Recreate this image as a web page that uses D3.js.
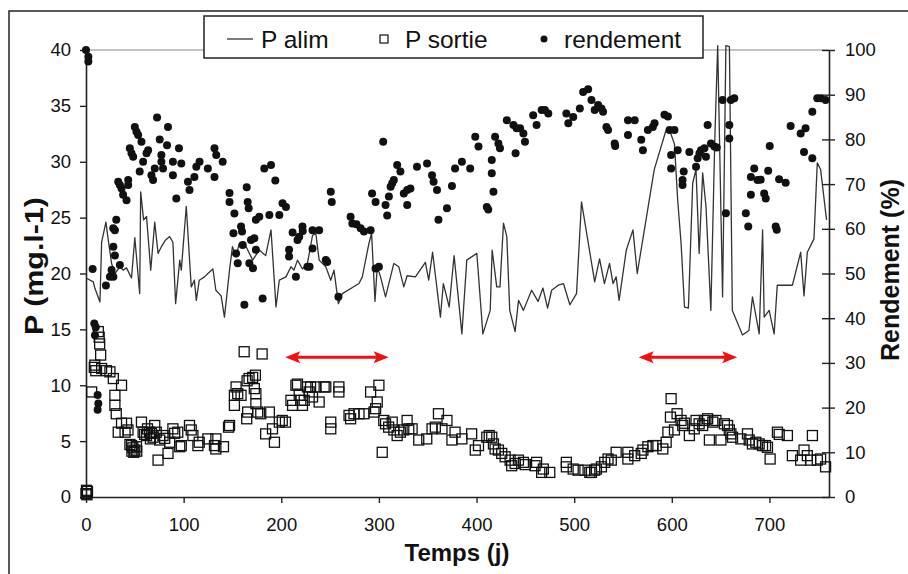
<!DOCTYPE html>
<html>
<head>
<meta charset="utf-8">
<script src="https://cdn.jsdelivr.net/npm/d3@7"></script>
<style>
  body { margin: 0; background: #fff; }
  svg { font-family: "Liberation Sans", Arial, sans-serif; }
</style>
</head>
<body>
<svg width="908" height="574"></svg>
<script>
// ticks
var xTicks = [0, 100, 200, 300, 400, 500, 600, 700];
var pTicks = [0, 5, 10, 15, 20, 25, 30, 35, 40];
var rTicks = [0, 10, 20, 30, 40, 50, 60, 70, 80, 90, 100];

// P alim [jour, mg/l]
var alim = [[0,19.6],[7.5,19.25],[9.2,18.65],[14.3,17.45],[16,22.8],[20.4,24.6],[22.8,23],[26.2,20.9],[29.6,20],[34.7,20.6],[38,20.3],[41.5,20.5],[46.6,19.6],[50,23.2],[55,18.2],[56,27.3],[59,24.8],[62,25.1],[66.3,20.3],[70.4,24.6],[73.8,21.8],[77.2,22.4],[81.6,23],[85.7,23.3],[89,22.8],[91.8,17.3],[96,21.2],[97.6,20.3],[102.7,26],[107.8,18.8],[111,19.4],[113,17.6],[116,19.4],[121.4,19.7],[124.8,20],[130,20.4],[133,18.5],[138.4,18],[141.8,16.1],[147,20.3],[150,22.4],[153.7,21.5],[157,22.7],[162,22.8],[164,22.4],[170.7,21.2],[177.5,22.1],[184,21.6],[189.5,23.9],[194.6,17],[198,19.4],[204.8,19.7],[209.9,20.6],[213,20.3],[216.6,21.2],[221.7,20.4],[226.8,20.9],[232,23.4],[235.4,23.6],[238.8,21.2],[245.6,20.6],[250.7,19.4],[254,20.3],[258.5,17.3],[262.6,18.2],[279.6,19.1],[283,19.7],[289.8,22.7],[292.5,23.6],[296,17.5],[298.3,20.6],[301.7,19.7],[306.8,17.9],[315.3,20.9],[320.4,20.6],[325.5,18.8],[328.9,19.8],[337.4,19.7],[347.6,21],[351,19.4],[355,21.9],[363,16.1],[366,19.1],[372,17],[377,21.6],[385,14.6],[390,21.2],[400.3,21.8],[406.5,14.6],[414,16.7],[416,22.1],[420.7,18.8],[424,18.8],[427.6,24.5],[431,23.3],[434,16.7],[439.5,14.8],[443,17.6],[448,16.7],[456.4,18.5],[463,17.5],[468,18.7],[472.8,16.9],[476.9,18.5],[483.7,18.95],[489,19.1],[495.6,17.2],[502.4,18.2],[507.5,26.4],[521,19.25],[526,21.3],[531,19.1],[536.2,20.9],[539.8,19.1],[543,19.7],[546,17.6],[553.4,22.1],[560.2,23.9],[564.6,20],[582,29.3],[594,32.8],[599,32.5],[602.7,31.6],[606,26.6],[609.5,22.7],[613,17],[617,16.9],[621.4,28.1],[624.8,29.3],[628,21.8],[631.6,29],[635,26],[640,16.7],[644,31.9],[647,40.4],[652,17.9],[655.4,40.4],[659,40.3],[662,16.7],[672.4,14.5],[679,14.9],[682.6,17.9],[689.5,14.6],[693,23.9],[694.6,16.1],[699.7,16.7],[704.8,14.6],[708,18.95],[723.5,18.95],[732,21.9],[735.4,18],[738.8,21.9],[745.6,23.1],[749,29.9],[752.4,29.3],[758.5,24.8]];

// P sortie [jour, mg/l]
var sortie = [[0,0.3],[0.5,0.6],[1,0.2],[1.5,0.5],[5.8,9.4],[8.5,11.6],[9,11.8],[12.6,14.8],[13.5,14.3],[14,13.7],[15,12.7],[10,11.3],[16,11.5],[21,11.3],[24.5,11.2],[28,10.6],[36.4,10],[29.6,9.1],[29.6,8.2],[31,7.45],[33,5.8],[36.4,6.6],[41.5,6.6],[43,6],[40,5.8],[45,4.7],[46.6,4.6],[47,4.1],[48,4.4],[49,4],[50,4.2],[51.7,4.5],[52,4.1],[56.8,6.7],[58.5,5.8],[60,5.6],[62,5.5],[63,6.1],[65,5.8],[66,5.2],[67,5.7],[68.7,5.35],[70.4,6.4],[73.8,3.3],[72,5.8],[75.5,5.1],[78.9,5.5],[80.6,5.25],[84,3.9],[85.7,4.9],[89,6.1],[90.8,5.7],[94,5.8],[96,4.5],[97.6,4.6],[106,6.4],[107.8,6],[109.5,5.5],[114.6,4.6],[116,4.9],[124.8,5.2],[131.6,4.6],[133,4.3],[133,5.2],[140.8,4.5],[146,6.25],[147,6.4],[152,9.1],[152,8.2],[153.7,9.85],[155.4,9.25],[158.8,9.1],[162,13],[164.6,7],[165.6,7.6],[165,10.4],[167,10.6],[170.7,10.7],[173.5,10.9],[172.4,9.7],[174,9.25],[174,8.35],[175.8,7.6],[179,7.45],[180.4,12.8],[184,5.65],[187.8,7.6],[191,6.1],[193,4.9],[198,6.7],[201,6.85],[204.3,6.7],[209.9,8.65],[211.6,8.2],[215,10],[216.6,10.1],[218.4,9.1],[220,8.65],[221.7,8.2],[223.5,8.65],[226.8,9.85],[228.6,9.4],[232,8.95],[230,9.85],[238.8,8.5],[235.4,9.85],[243.9,9.85],[245.6,9.85],[250.7,6.7],[250.7,6.1],[259,9.85],[259,9.4],[269.4,7.3],[271,7],[274.5,7.45],[279.6,7.45],[284.7,7.45],[291.5,9.4],[295,7.6],[296.6,7.9],[298.3,8.5],[300,10],[303.4,4],[305,6.85],[306.8,6.55],[310,6.25],[313.6,6.7],[315.3,6],[318.7,5.5],[322,5.8],[325.5,6],[328.9,6.85],[330.6,6.1],[334,6.1],[340.8,5.1],[349,5.2],[354.4,6.1],[357.8,6.25],[361,7.45],[364.6,6.1],[369.7,6.85],[374.8,5.1],[378,5.8],[385,5.2],[395,5.65],[398.7,4.2],[402,4.6],[410.5,5.35],[413,5.5],[415.6,5.35],[417.3,4.75],[419,4.3],[422.4,4.2],[425.8,3.9],[429.3,3.6],[434.4,3.3],[436,2.8],[439.5,3],[442.9,3.3],[448,3.1],[450,2.9],[459.9,2.8],[461.5,3.1],[468.4,2.5],[466.7,2.2],[475,2.2],[492,3.1],[492,2.7],[499,2.5],[504,2.4],[511,2.4],[516,2.2],[517.7,2.2],[521,2.4],[522.8,2.5],[527.9,2.7],[531.3,3.1],[534.7,3.4],[538,3.3],[543,4],[555,4],[555,3.4],[562,3.7],[568.7,3.9],[570.4,4.2],[575.5,4.5],[580.6,4.6],[584,4.6],[590.8,4.3],[594.2,4.9],[596,5.8],[598.6,7.15],[599.3,8.8],[602.7,6],[605.4,7.45],[609.5,6.85],[611.2,6.4],[613,6.6],[618,5.5],[623,6.1],[624.8,6.85],[628,6.55],[631.6,6.4],[633.4,6.85],[636.7,7],[638.5,5.1],[642,6.7],[645.2,6.85],[650.3,5.1],[653.8,6.55],[657.1,6.4],[658.9,6],[660.5,5.65],[662.2,5.35],[670.7,5.2],[677.5,5.65],[679.3,5.1],[682.6,4.75],[686,4.9],[689.5,4.75],[692.9,4.6],[696,4.6],[698,4.45],[700.7,3.4],[708.2,5.8],[710,5.6],[718.4,5.5],[723.5,3.7],[732,3.3],[735.4,4.2],[738.8,3.7],[742.2,3.3],[744,5.5],[749,3.3],[752.4,3.4],[757.5,2.7]];

// rendement [jour, %]
var rendement = [[0,100],[2.4,98.5],[2.4,97.4],[6.8,51],[8.5,38.8],[9.2,36.2],[10,38],[11.9,22.8],[12.6,20.9],[11.9,19.5],[20.4,47.3],[24.5,49.3],[26.2,50.8],[28,49.3],[29.6,54],[28,56],[29.6,59.7],[31,62],[27.9,60.1],[34.7,51.9],[33,70.5],[34.7,69.8],[36.4,69],[38,67.6],[41.5,66.4],[43.2,70.9],[43.2,69.8],[44.9,78],[46.6,76.9],[48.3,76.1],[50,82.8],[51.7,81.7],[53.4,81],[56.8,79.5],[55,72.8],[58.5,75],[62,76.9],[63.6,77.6],[67,72],[68.7,70.9],[70.4,73.5],[72.8,84.9],[75.5,80],[77.2,76.5],[77.2,75],[78.9,73.5],[84,82.8],[83,78.7],[89,75],[89,72],[92.5,66.8],[95.2,78],[97.6,74.6],[104.4,70.5],[106,68.7],[111,71.6],[113,73.9],[116.3,75],[124.8,73.5],[131.6,78],[133.4,76.5],[131.6,71.6],[140,75],[147,68],[147,66],[152,63.4],[151,59],[158.8,60.5],[159.8,59.4],[164.6,69.3],[165.6,66],[166.6,64.6],[153.7,54.5],[155.4,52.3],[160.5,56.4],[162.2,43],[169,57.5],[172.4,57.9],[174,55.3],[167.3,52.3],[171,51.2],[174,62],[177.5,62.7],[180.9,44.4],[182.6,73.5],[189.5,74.3],[193.9,70.8],[187.8,63.1],[198,63.1],[201.3,65.7],[204.8,64.9],[208,55.3],[208,53.8],[211.6,59.2],[215,49.3],[216.6,57.5],[218.4,58.2],[221.7,60.5],[222,59.5],[226.8,51.5],[229,51.5],[232,59.7],[232,55.6],[238.8,59.7],[245.6,53],[247,52.6],[250.7,68.3],[251.7,66],[258.5,44.8],[271,62.7],[272.8,61.2],[277,61],[281.3,60.1],[284.7,59.4],[291.5,59.7],[296.6,51.1],[300,51.5],[293,67.9],[296.6,66],[304.4,79.5],[306.8,65.3],[308.5,63],[310.2,67.2],[312,69.4],[313.6,70.2],[315.3,70.9],[318.7,74.3],[322,72.8],[325.5,67.9],[329,65.3],[329,68.7],[332.3,69],[339,73.9],[349.3,74.6],[354.4,72],[356,70.5],[359.5,68.7],[361,62],[369.7,64.6],[374.8,69.6],[378,73.5],[385,75],[393.5,73.5],[398.7,80.6],[402,78.4],[410.5,64.9],[412,64.3],[415.6,75.4],[415.6,72.4],[417.3,68.3],[419,80.6],[422.4,79.1],[424,78],[431,84.3],[437.8,83.2],[440,76.9],[441,82.5],[444.6,82.5],[448,81.3],[449.6,79.5],[458,85.4],[461.5,83.2],[466.7,86.6],[470,86.6],[473.5,85.8],[492,85.8],[494,83.6],[499,85],[505.8,86.9],[509.2,90.6],[514.3,91.2],[517.7,88.8],[521,86.6],[524.5,87.7],[527.9,86.9],[529.6,86.2],[533,82.8],[534.7,82.1],[541.5,79.1],[542,78.5],[555.1,84.3],[562,84.3],[555.1,81],[568.7,79.9],[570.4,77.6],[575.5,82.1],[580.6,82.8],[582.3,83.6],[592.5,85.5],[596,85.1],[597.7,82.1],[602.7,82.1],[599.3,76.5],[599.3,73.5],[606,77.6],[612.2,72.8],[611,70.9],[611,69.8],[618,77.2],[624.8,73.9],[626.5,75.8],[628.3,76.9],[629.9,77.6],[633.4,78],[635,76.1],[636.7,83.2],[640.1,79.1],[643.6,78.4],[646,78.2],[652,88.8],[655.4,63.5],[658.9,83.2],[658.9,80.2],[660.5,88.8],[664,89.2],[675.8,63.5],[678.3,60.5],[681,67.6],[681,71.6],[684.4,73.5],[687.8,70.9],[691,71],[694.6,67.9],[696.2,66.8],[698.7,73],[700.3,78.5],[706.4,60.5],[707.5,59.8],[709.9,71.1],[716.6,70.3],[721.7,83],[732,81.3],[737,82.5],[735.4,77.2],[743.9,75.8],[743.9,86.2],[749,89.2],[752.4,89.2],[757.5,88.8]];

// periods marked by red arrows [debut, fin] (jours), at P = 12.5
var periodes = [[204, 310], [566, 667]];
var arrowP = 12.5;

var svg = d3.select('svg');

var x = d3.scaleLinear().domain([0, 761]).range([86, 829]);
var yP = d3.scaleLinear().domain([0, 40]).range([497, 50]);
var yR = d3.scaleLinear().domain([0, 100]).range([497, 50]);

// outer frame
svg.append('path')
    .attr('d', 'M9,600 L9,11 L920,11')
    .style('fill', 'none')
    .style('stroke', '#222')
    .style('stroke-width', 1.5);

// top border of plot area
svg.append('line')
    .attr('x1', x(0)).attr('x2', x(761))
    .attr('y1', yP(40)).attr('y2', yP(40))
    .style('stroke', '#888')
    .style('stroke-width', 1.2);

// axes
var gLeft = svg.append('g')
    .attr('transform', 'translate(' + x(0) + ',0)')
    .call(d3.axisLeft(yP).tickValues(pTicks).tickSize(6).tickSizeOuter(0).tickPadding(9));

var gRight = svg.append('g')
    .attr('transform', 'translate(' + x(761) + ',0)')
    .call(d3.axisRight(yR).tickValues(rTicks).tickSize(6).tickSizeOuter(0).tickPadding(10));
gRight.selectAll('.tick line').attr('x1', -7).attr('x2', 6);

var gBottom = svg.append('g')
    .attr('transform', 'translate(0,' + yP(0) + ')')
    .call(d3.axisBottom(x).tickValues(xTicks).tickSize(6).tickSizeOuter(0).tickPadding(15));

[gLeft, gRight, gBottom].forEach(function(g) {
    g.selectAll('.domain').style('stroke', '#222').style('stroke-width', 1.6);
    g.selectAll('.tick line').style('stroke', '#222').style('stroke-width', 1.4);
    g.selectAll('text')
        .style('font-family', '"Liberation Sans", Arial, sans-serif')
        .style('font-size', '18.5px')
        .style('fill', '#111');
});

// axis titles
svg.append('text')
    .attr('transform', 'translate(43,266) rotate(-90)')
    .attr('text-anchor', 'middle')
    .attr('textLength', 138)
    .attr('lengthAdjust', 'spacingAndGlyphs')
    .style('font-size', '25px')
    .style('font-weight', 'bold')
    .style('fill', '#111')
    .text('P (mg.l-1)');

svg.append('text')
    .attr('transform', 'translate(899,270) rotate(-90)')
    .attr('text-anchor', 'middle')
    .style('font-size', '25px')
    .style('font-weight', 'bold')
    .style('fill', '#111')
    .text('Rendement (%)');

svg.append('text')
    .attr('x', 457)
    .attr('y', 561)
    .attr('text-anchor', 'middle')
    .style('font-size', '24px')
    .style('font-weight', 'bold')
    .style('fill', '#111')
    .text('Temps (j)');

// P alim line
var line = d3.line()
    .x(function(d) { return x(d[0]); })
    .y(function(d) { return yP(d[1]); });

svg.append('path')
    .datum(alim)
    .attr('d', line)
    .style('fill', 'none')
    .style('stroke', '#333')
    .style('stroke-width', 1.3)
    .style('stroke-linejoin', 'round');

// P sortie squares
svg.append('g').selectAll('rect')
    .data(sortie)
    .enter().append('rect')
    .attr('x', function(d) { return x(d[0]) - 5; })
    .attr('y', function(d) { return yP(d[1]) - 5; })
    .attr('width', 10)
    .attr('height', 10)
    .style('fill', 'none')
    .style('stroke', '#111')
    .style('stroke-width', 1.3);

// rendement dots
svg.append('g').selectAll('circle')
    .data(rendement)
    .enter().append('circle')
    .attr('cx', function(d) { return x(d[0]); })
    .attr('cy', function(d) { return yR(d[1]); })
    .attr('r', 4)
    .style('fill', '#111');

// red double arrows
periodes.forEach(function(p) {
    var x1 = x(p[0]), x2 = x(p[1]), y = yP(arrowP);
    svg.append('line')
        .attr('x1', x1 + 8).attr('x2', x2 - 8)
        .attr('y1', y).attr('y2', y)
        .style('stroke', '#f01010')
        .style('stroke-width', 3);
    svg.append('path')
        .attr('d', 'M' + x1 + ',' + y + ' l15,-6 l-3,6 l3,6 z')
        .style('fill', '#f01010');
    svg.append('path')
        .attr('d', 'M' + x2 + ',' + y + ' l-15,-6 l3,6 l-3,6 z')
        .style('fill', '#f01010');
});

// legend
var legend = svg.append('g');
legend.append('rect')
    .attr('x', 204).attr('y', 16)
    .attr('width', 499).attr('height', 42)
    .style('fill', 'white')
    .style('stroke', '#222')
    .style('stroke-width', 1.5);

legend.append('line')
    .attr('x1', 227).attr('x2', 253)
    .attr('y1', 39).attr('y2', 39)
    .style('stroke', '#333')
    .style('stroke-width', 1.3);
legend.append('rect')
    .attr('x', 380).attr('y', 35)
    .attr('width', 8).attr('height', 8)
    .style('fill', 'white')
    .style('stroke', '#111')
    .style('stroke-width', 1.2);
legend.append('circle')
    .attr('cx', 544).attr('cy', 39)
    .attr('r', 3.5)
    .style('fill', '#111');

var legendLabels = [['P alim', 261], ['P sortie', 405], ['rendement', 564]];
legend.selectAll('text.lab')
    .data(legendLabels)
    .enter().append('text')
    .attr('class', 'lab')
    .attr('x', function(d) { return d[1]; })
    .attr('y', 48)
    .style('font-size', '24.5px')
    .style('fill', '#111')
    .text(function(d) { return d[0]; });
</script>
</body>
</html>
